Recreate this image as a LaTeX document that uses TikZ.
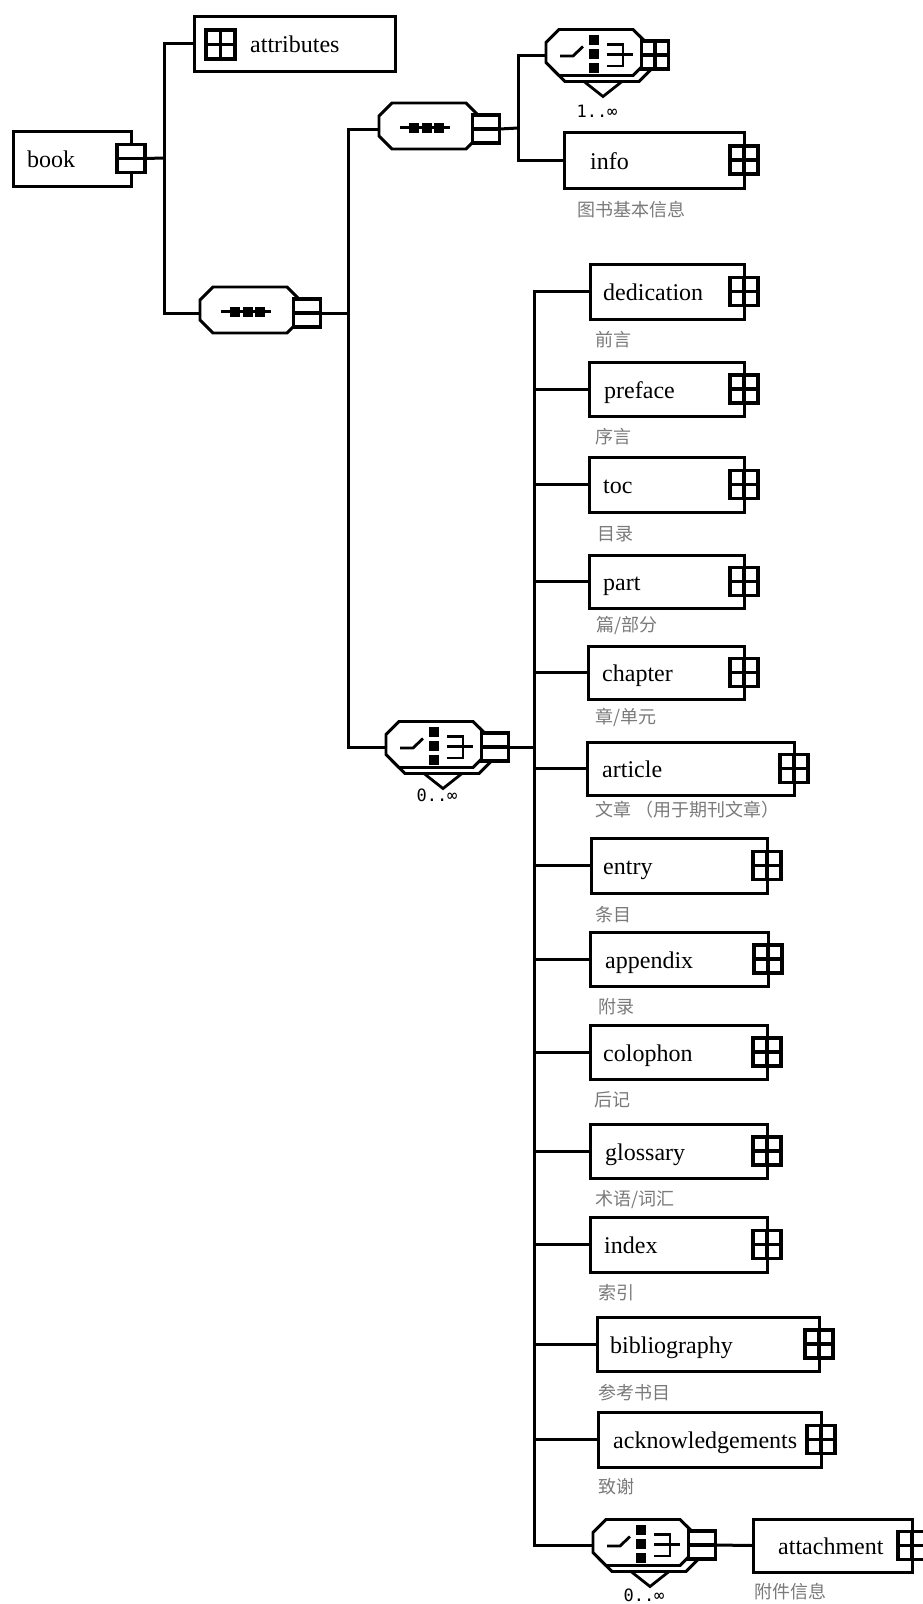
\documentclass[tikz,border=0pt]{standalone}
\usepackage{fontspec}
\setmainfont{Liberation Serif}
\newfontfamily\cjkf{Noto Sans CJK SC}
\newfontfamily\monof{DejaVu Sans Mono}
\usetikzlibrary{calc,backgrounds}
\definecolor{labgray}{HTML}{7A7A7A}
\tikzset{
 conn/.style={line width=3pt, line join=miter},
 elembox/.style={draw, line width=3pt, fill=white, inner sep=0pt, outer sep=0pt},
 elemtext/.style={inner sep=0pt, font=\fontsize{24}{28}\selectfont},
 expbox/.style={draw, line width=3.2pt, fill=white, minimum width=28pt, minimum height=28pt, inner sep=0pt, outer sep=0pt},
 expline/.style={line width=3.2pt},
 cjklab/.style={inner sep=0pt, text=labgray, font=\cjkf\fontsize{18}{20}\selectfont},
 octline/.style={draw, line width=2.9pt, fill=white, line join=miter},
 inv/.style={inner sep=0pt, outer sep=0pt, minimum width=100pt, minimum height=46pt},
 multlab/.style={inner sep=0pt, font=\monof\fontsize{17}{18}\selectfont},
 symline/.style={line width=2.8pt},
}
\newcommand\xocto[2]{%
 \draw[#2] ([xshift=13pt]#1.north west) -- ([xshift=-13pt]#1.north east) -- ([yshift=-13pt]#1.north east) -- ([yshift=13pt]#1.south east) -- ([xshift=-13pt]#1.south east) -- ([xshift=13pt]#1.south west) -- ([yshift=13pt]#1.south west) -- ([yshift=-13pt]#1.north west) -- cycle;}
\newcommand\xplus[1]{\draw[expline] (#1.west) -- (#1.east) (#1.north) -- (#1.south);}
\newcommand\xminus[1]{\draw[expline] (#1.west) -- (#1.east);}
\newcommand\xel[8]{%
 \pgfmathsetmacro\xw{#3-#2}\pgfmathsetmacro\xh{#5-#4}%
 \node[elembox, minimum width=\xw pt, minimum height=\xh pt, anchor=north west] (#1) at (#2,#4) {};
 \node[elemtext, anchor=base west] (#1-t) at ([xshift=#7pt, yshift=-9pt]#1.west) {#6};
 \node[expbox] (#1-x) at (#1.east) {};
 #8{#1-x}}
\newcommand\xlab[4]{\node[cjklab, anchor=west] (#1) at (#2,#3) {#4};}
\newcommand\xchoice[6]{%
 \pgfmathsetmacro\xL{#2}\pgfmathsetmacro\xC{#3}%
 \coordinate (#1-in) at (\xL,\xC);
 \node[inv] (#1) at (\xL+50,\xC-2.5) {};
 \node[inv] (#1-s) at (\xL+56,\xC+3.5) {};
 \draw[line width=2.8pt, fill=white] (\xL+38,\xC+26.5) -- (\xL+57,\xC+41.5) -- (\xL+76,\xC+26.5);
 \xocto{#1-s}{octline}
 \xocto{#1}{octline}
 \draw[symline] (\xL+14,\xC+1) -- (\xL+27,\xC+1) -- (\xL+37,\xC-8.5);
 \fill (\xL+43,\xC-20.5) rectangle (\xL+53,\xC-10.5);
 \fill (\xL+43,\xC-6.5) rectangle (\xL+53,\xC+3.5);
 \fill (\xL+43,\xC+7.5) rectangle (\xL+53,\xC+17.5);
 \draw[symline] (\xL+61,\xC-10.5) -- (\xL+77,\xC-10.5) -- (\xL+77,\xC+11) -- (\xL+61,\xC+11) (\xL+61,\xC-0.5) -- (\xL+87,\xC-0.5);
 \node[expbox, minimum width=27pt] (#1-x) at (\xL+109,\xC) {};
 #4{#1-x}
 \coordinate (#1-out) at (#1-x.east);
 \node[multlab] (#1-m) at (\xL+51,\xC+#6) {#5};
}
\newcommand\xseq[3]{%
 \pgfmathsetmacro\xL{#2}\pgfmathsetmacro\xC{#3}%
 \coordinate (#1-in) at (\xL,\xC);
 \node[inv] (#1) at (\xL+50,\xC-3) {};
 \xocto{#1}{octline}
 \draw[symline] (\xL+21,\xC-1.5) -- (\xL+71,\xC-1.5);
 \fill (\xL+30,\xC-6.5) rectangle (\xL+40,\xC+3.5);
 \fill (\xL+42.5,\xC-6.5) rectangle (\xL+52.5,\xC+3.5);
 \fill (\xL+55,\xC-6.5) rectangle (\xL+65,\xC+3.5);
 \node[expbox, minimum width=27pt] (#1-x) at (\xL+107,\xC) {};
 \xminus{#1-x}
 \coordinate (#1-out) at (#1-x.east);
}
\begin{document}
\begin{tikzpicture}[x=1pt,y=-1pt]
\useasboundingbox (0,0) rectangle (922,1604);
\begin{pgfonlayer}{background}
\fill[white] (0,0) rectangle (922,1604);
\end{pgfonlayer}
% root and attributes
\xel{book}{13}{131}{131}{186}{book}{14}{\xminus}
\node[elembox, minimum width=201pt, minimum height=55pt, anchor=north west] (attributes) at (194,16) {};
\node[expbox, minimum width=29pt, minimum height=29pt] (attributes-x) at (220.5,44.5) {};
\xplus{attributes-x}
\node[elemtext, anchor=base west] (attributes-t) at (250,52) {attributes};
% compositors
\xseq{seqL}{200}{313}
\xseq{seqU}{379}{129}
\xchoice{chT}{546}{55}{\xplus}{1..∞}{56}
\xchoice{chM}{386}{747}{\xminus}{0..∞}{48}
\xchoice{chB}{593}{1545}{\xminus}{0..∞}{50}
% elements
\xel{info}{564}{744}{132}{188}{info}{26}{\xplus}
\xel{dedication}{590}{744}{264}{319}{dedication}{13}{\xplus}
\xel{preface}{589}{744}{362}{416}{preface}{15}{\xplus}
\xel{toc}{589}{744}{457}{512}{toc}{14}{\xplus}
\xel{part}{589}{744}{555}{608}{part}{14}{\xplus}
\xel{chapter}{588}{744}{646}{699}{chapter}{14}{\xplus}
\xel{article}{587}{794}{742}{795}{article}{15}{\xplus}
\xel{entry}{591}{767}{838}{893}{entry}{12}{\xplus}
\xel{appendix}{590}{768}{932}{986}{appendix}{15}{\xplus}
\xel{colophon}{590}{767}{1025}{1079}{colophon}{13}{\xplus}
\xel{glossary}{590}{767}{1124}{1178}{glossary}{15}{\xplus}
\xel{index}{590}{767}{1217}{1272}{index}{14}{\xplus}
\xel{bibliography}{597}{819}{1317}{1371}{bibliography}{13}{\xplus}
\xel{acknowledgements}{598}{821}{1412}{1467}{acknowledgements}{15}{\xplus}
\xel{attachment}{753}{912}{1519}{1572}{attachment}{25}{\xplus}
% labels
\xlab{info-l}{577}{210}{图书基本信息}
\xlab{dedication-l}{595}{340}{前言}
\xlab{preface-l}{595}{437}{序言}
\xlab{toc-l}{597}{534}{目录}
\xlab{part-l}{596}{625}{篇/部分}
\xlab{chapter-l}{595}{717}{章/单元}
\xlab{article-l}{595}{810}{文章\hspace{4pt}（用于期刊文章）}
\xlab{entry-l}{595}{915}{条目}
\xlab{appendix-l}{598}{1007}{附录}
\xlab{colophon-l}{594}{1100}{后记}
\xlab{glossary-l}{595}{1200}{术语/词汇}
\xlab{index-l}{598}{1293}{索引}
\xlab{bibliography-l}{598}{1393}{参考书目}
\xlab{acknowledgements-l}{598}{1487}{致谢}
\xlab{attachment-l}{754}{1592}{附件信息}
% connectors
\begin{pgfonlayer}{background}
\coordinate (bus0) at (164,158);
\coordinate (bus1) at (518,128);
\coordinate (bus2) at (348,313);
\coordinate (bus3) at (534,747);
\draw[conn] (book-x.east) -- (bus0);
\draw[conn] (attributes.west) -| (seqL-in -| bus0) -- (seqL-in);
\draw[conn] (seqL-out) -- (bus2);
\draw[conn] (seqU-in) -| (chM-in -| bus2) -- (chM-in);
\draw[conn] (seqU-out) -- (bus1);
\draw[conn] (chT-in) -| (info.west -| bus1) -- (info.west);
\draw[conn] (chM-out) -- (bus3);
\draw[conn] (dedication.west) -| (chB-in -| bus3) -- (chB-in);
\foreach \nm in {preface,toc,part,chapter,article,entry,appendix,colophon,glossary,index,bibliography,acknowledgements}
  \draw[conn] (\nm.west -| bus3) -- (\nm.west);
\draw[conn] (chB-out) -- (attachment.west);
\end{pgfonlayer}
\end{tikzpicture}
\end{document}
